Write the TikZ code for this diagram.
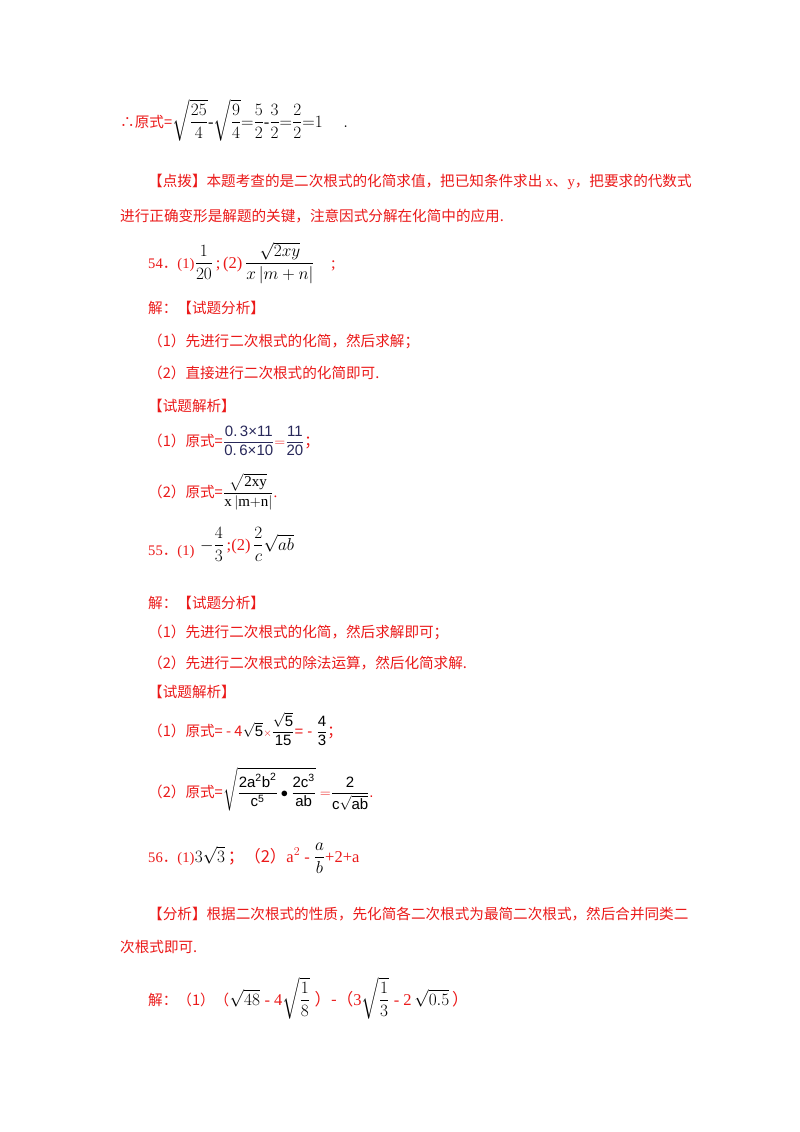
\documentclass[tikz,border=0pt]{standalone}
\usepackage{amsmath}
\usepackage{fontspec}
\setmainfont{Liberation Serif}
\newfontfamily\cjk{Noto Sans CJK SC}
\newfontfamily\arl{Liberation Sans}
\definecolor{rd}{RGB}{235,25,25}
\definecolor{bl}{RGB}{40,40,90}
\begin{document}
\begin{tikzpicture}[x=1pt,y=-1pt,
  t/.style={anchor=base west,inner sep=0pt,text=rd,font=\fontsize{14.6}{17}\selectfont\cjk},
  m/.style={anchor=base west,inner sep=0pt,text=black,font=\fontsize{16.5}{18}\selectfont}]
\useasboundingbox[fill=white] (0,0) rectangle (800,1132);
\node[t] (l1) at (120,127) {∴原式=};
\node[m] (l1m) at (l1.base east) [anchor=base west] {$\sqrt{\dfrac{25}{4}}\text{-}\sqrt{\dfrac{9}{4}}{=}\dfrac{5}{2}\text{-}\dfrac{3}{2}{=}\dfrac{2}{2}{=}1\quad\ .$};
\node[t] (l2) at (148,186) {【点拨】本题考查的是二次根式的化简求值，把已知条件求出 {\rmfamily x}、{\rmfamily y}，把要求的代数式};
\node[t] (l3) at (120,221) {进行正确变形是解题的关键，注意因式分解在化简中的应用.};
\node[t] (l4) at (148,268) {{\rmfamily 54}．{\rmfamily (1)}};
\node[m] (l4m) at (l4.base east) [anchor=base west] {$\dfrac{1}{20}$\,{\color{rd};\,(2)}\,$\dfrac{\sqrt{2xy}}{x\left|m+n\right|}$\quad{\color{rd};}};
\node[t] (l5) at (148,313) {解：【试题分析】};
\node[t] (l6) at (148,346) {（1）先进行二次根式的化简，然后求解；};
\node[t] (l7) at (148,378) {（2）直接进行二次根式的化简即可.};
\node[t] (l8) at (148,411) {【试题解析】};
\node[t] (l9) at (148,446) {（1）原式=};
\node[m,text=bl,font=\fontsize{15}{17}\selectfont\arl] (l9m) at (l9.base east) [anchor=base west] {$\dfrac{\text{0.\,3×11}}{\text{0.\,6×10}}{\color{rd}=}\dfrac{\text{11}}{\text{20}}${\color{rd}\cjk ；}};
\node[t] (l10) at (148,497) {（2）原式=};
\node[m,text=black,font=\fontsize{15}{17}\selectfont] (l10m) at (l10.base east) [anchor=base west] {$\dfrac{\sqrt{\mathrm{2xy}}}{\mathrm{x}\left|\mathrm{m{+}n}\right|}${\color{rd}.}};
\node[t] (l11) at (148,555) {{\rmfamily 55}．{\rmfamily (1)}};
\node[m] (l11m) at (200,550) [anchor=base west] {$-\dfrac{4}{3}$\,{\color{rd};(2)}\,$\dfrac{2}{c}\sqrt{ab}$};
\node[t] (l12) at (148,608) {解：【试题分析】};
\node[t] (l13) at (148,637) {（1）先进行二次根式的化简，然后求解即可；};
\node[t] (l14) at (148,668) {（2）先进行二次根式的除法运算，然后化简求解.};
\node[t] (l15) at (148,697) {【试题解析】};
\node[t] (l16) at (148,736) {（1）原式= - 4};
\node[m,font=\fontsize{15}{17}\selectfont\arl] (l16m) at (l16.base east) [anchor=base west] {$\sqrt{\text{5}}{\color{rd}\scriptstyle\times}\dfrac{\sqrt{\text{5}}}{\text{15}}${\color{rd} = - }$\dfrac{\text{4}}{\text{3}}${\color{rd}\cjk ；}};
\node[t] (l17) at (148,797) {（2）原式=};
\node[m,font=\fontsize{15}{17}\selectfont\arl] (l17m) at (l17.base east) [anchor=base west] {$\sqrt{\dfrac{\text{2a}^{\text{2}}\text{b}^{\text{2}}}{\text{c}^{\text{5}}}\bullet\dfrac{\text{2c}^{\text{3}}}{\text{ab}}}\;{\color{rd}=}\dfrac{\text{2}}{\text{c}\sqrt{\text{ab}}}${\color{rd}.}};
\node[t] (l18) at (148,862) {{\rmfamily 56}．{\rmfamily (1)}};
\node[m] (l18m) at (l18.base east) [anchor=base west] {$3\sqrt{3}$\,{\color{rd}\cjk ；（2）}{\color{rd}a$^{2}$ - }$\dfrac{a}{b}${\color{rd} +2+a}};
\node[t] (l19) at (148,919) {【分析】根据二次根式的性质，先化简各二次根式为最简二次根式，然后合并同类二};
\node[t] (l20) at (120,952) {次根式即可.};
\node[t] (l21) at (148,1005) {解：（1）（};
\node[m] (l21m) at (l21.base east) [anchor=base west] {$\sqrt{48}$\;{\color{rd}- 4}$\sqrt{\dfrac{1}{8}}$\;{\color{rd}\cjk ）-（}{\color{rd}3}$\sqrt{\dfrac{1}{3}}$\;{\color{rd}- 2}\,$\sqrt{0.5}$\,{\color{rd}\cjk ）}};
\end{tikzpicture}
\end{document}
